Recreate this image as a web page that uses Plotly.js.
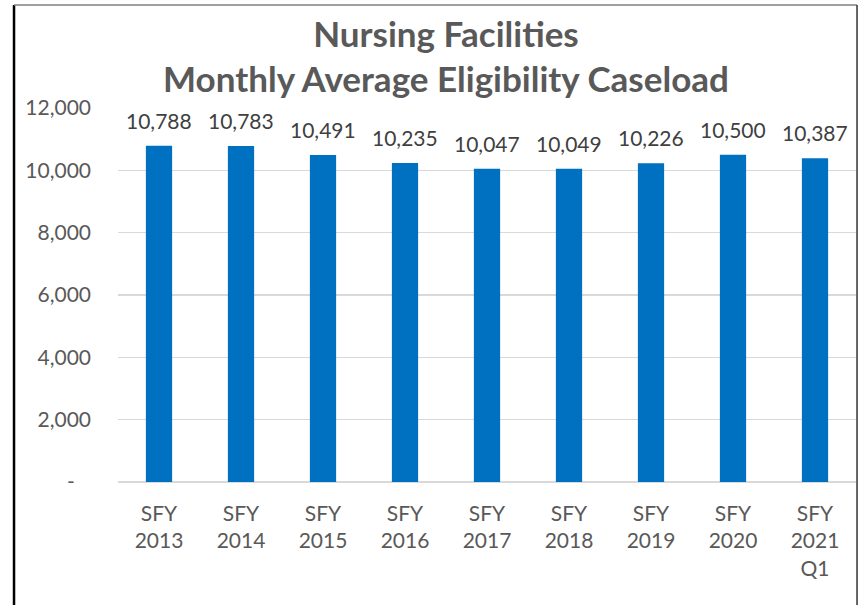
<!DOCTYPE html>
<html>
<head>
<meta charset="utf-8">
<script src="https://cdn.plot.ly/plotly-3.0.1.min.js"></script>
<style>html,body{margin:0;padding:0;background:#fff;}#chart{width:866px;height:605px;}</style>
</head>
<body>
<div id="chart"></div>
<script>
var categories = ["SFY<br>2013","SFY<br>2014","SFY<br>2015","SFY<br>2016","SFY<br>2017","SFY<br>2018","SFY<br>2019","SFY<br>2020","SFY<br>2021<br>Q1"];
var caseload = [10788, 10783, 10491, 10235, 10047, 10049, 10226, 10500, 10387];
var yTickVals = [0, 2000, 4000, 6000, 8000, 10000, 12000];
var yTickText = ["-\u00a0\u00a0\u00a0", "2,000", "4,000", "6,000", "8,000", "10,000", "12,000"];

var FONT = "Lato, 'Open Sans', sans-serif";
var trace = {
  type: "bar",
  x: categories,
  y: caseload,
  marker: {color: "#0070C0"},
  cliponaxis: false,
  hoverinfo: "none"
};
var labels = categories.map(function(c, i){
  return {
    x: c, y: caseload[i], xref: "x", yref: "y",
    text: caseload[i].toLocaleString("en-US"),
    showarrow: false, yanchor: "bottom", yshift: 11,
    font: {family: FONT, size: 21, color: "#404040"}
  };
});
var layout = {
  width: 866, height: 605,
  paper_bgcolor: "#fff", plot_bgcolor: "#fff",
  margin: {l: 118, r: 10, t: 108, b: 123},
  bargap: 0.68,
  showlegend: false,
  font: {family: FONT, color: "#595959"},
  title: {
    text: "<b>Nursing Facilities<br>Monthly Average Eligibility Caseload</b>",
    font: {family: FONT, size: 35, color: "#595959", weight: "bold"},
    x: 0.515, xref: "container", xanchor: "center",
    y: 0.923, yref: "container", yanchor: "top"
  },
  xaxis: {
    type: "category",
    tickfont: {family: FONT, size: 21, color: "#595959"},
    showgrid: false, showline: false, zeroline: false,
    ticks: "", ticklabelstandoff: 17
  },
  yaxis: {
    range: [0, 12000],
    tickvals: yTickVals, ticktext: yTickText,
    tickfont: {family: FONT, size: 21, color: "#595959"},
    showgrid: true, gridcolor: "#D9D9D9", gridwidth: 1.5,
    zeroline: true, zerolinecolor: "#D9D9D9", zerolinewidth: 1.5,
    showline: false, ticks: "", ticklabelstandoff: 26
  },
  annotations: labels,
  shapes: [
    {type: "line", xref: "paper", yref: "paper", x0: -0.1409, x1: -0.1409, y0: -0.4, y1: 1.2754, line: {color: "#000", width: 2.5}},
    {type: "line", xref: "paper", yref: "paper", x0: -0.1409, x1: 1.0014, y0: 1.2754, y1: 1.2754, line: {color: "#7f7f7f", width: 1.5}},
    {type: "line", xref: "paper", yref: "paper", x0: 1.0014, x1: 1.0014, y0: -0.4, y1: 1.2754, line: {color: "#333", width: 1.5}}
  ]
};
Plotly.newPlot("chart", [trace], layout, {displayModeBar: false, staticPlot: true});
</script>
</body>
</html>
